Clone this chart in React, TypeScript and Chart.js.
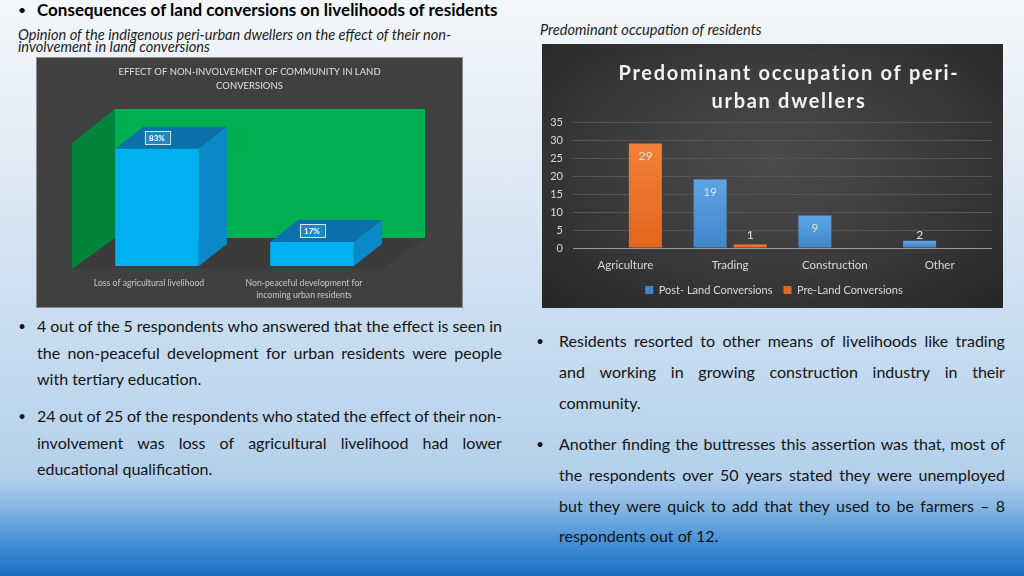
import React, { useEffect, useRef } from "react";
import { Chart, registerables } from "chart.js";

Chart.register(...registerables);

const FONT = "Lato, 'Open Sans', sans-serif";

// ---------- Left chart: effect of non-involvement (3D column look) ----------
const effectTitle = ["EFFECT OF NON-INVOLVEMENT OF COMMUNITY IN LAND", "CONVERSIONS"];
const effectCategories = [
  ["Loss of agricultural livelihood"],
  ["Non-peaceful development for", "incoming urban residents"],
];
const effectPercent = [83, 17];
const effectAxisMax = 87;

// ---------- Right chart: predominant occupation ----------
const occupationTitle = ["Predominant occupation of peri-", "urban dwellers"];
const occupationCategories = ["Agriculture", "Trading", "Construction", "Other"];
const seriesNames = ["Post- Land Conversions", "Pre-Land Conversions"];
const postConversion = [0, 19, 9, 2];
const preConversion = [29, 1, 0, 0];
const occupationAxisMax = 35;
const occupationAxisStep = 5;

// ---------- Slide text ----------
const headerText = "Consequences of land conversions on livelihoods of residents";
const leftCaption = [
  "Opinion of the indigenous peri-urban dwellers on the effect of their non-",
  "involvement in land conversions",
];
const rightCaption = "Predominant occupation of residents";
const leftBullets = [
  [
    "4 out of the 5 respondents who answered that the effect is seen in",
    "the non-peaceful development for urban residents were people",
    "with tertiary education.",
  ],
  [
    "24 out of 25 of the respondents who stated the effect of their non-",
    "involvement was loss of agricultural livelihood had lower",
    "educational qualification.",
  ],
];
const rightBullets = [
  [
    "Residents resorted to other means of livelihoods like trading",
    "and working in growing construction industry in their",
    "community.",
  ],
  [
    "Another finding the buttresses this assertion was that, most of",
    "the respondents over 50 years stated they were unemployed",
    "but they were quick to add that they used to be farmers \u2013 8",
    "respondents out of 12.",
  ],
];

type Pt = [number, number];
function poly(ctx: CanvasRenderingContext2D, pts: Pt[]) {
  ctx.beginPath();
  ctx.moveTo(pts[0][0], pts[0][1]);
  for (let i = 1; i < pts.length; i++) ctx.lineTo(pts[i][0], pts[i][1]);
  ctx.closePath();
  ctx.fill();
}

function EffectChart() {
  const ref = useRef<HTMLCanvasElement>(null);
  useEffect(() => {
    const canvas = ref.current!;
    const depth3d = {
      id: "depth3d",
      beforeDatasetsDraw(chart: any) {
        const { ctx, chartArea: ca } = chart;
        const fx = -7.5;
        const bx = 35.5;
        ctx.save();
        ctx.fillStyle = "rgba(0,0,0,0.07)";
        poly(ctx, [
          [ca.left + fx, ca.bottom + 3],
          [ca.left + bx, ca.bottom - 28],
          [ca.right + bx, ca.bottom - 28],
          [ca.right + fx, ca.bottom + 3],
        ]);
        ctx.fillStyle = "#00b050";
        poly(ctx, [
          [ca.left + bx, ca.top - 34],
          [ca.right + bx, ca.top - 34],
          [ca.right + bx, ca.bottom - 28],
          [ca.left + bx, ca.bottom - 28],
        ]);
        ctx.fillStyle = "#00843c";
        poly(ctx, [
          [ca.left + fx, ca.top],
          [ca.left + bx, ca.top - 34],
          [ca.left + bx, ca.bottom - 28],
          [ca.left + fx, ca.bottom + 3],
        ]);
        ctx.restore();
      },
      afterDatasetsDraw(chart: any) {
        const { ctx } = chart;
        const meta = chart.getDatasetMeta(0);
        const dx = 28;
        const dy = -22;
        ctx.save();
        meta.data.forEach((bar: any, i: number) => {
          const p = bar.getProps(["x", "y", "base", "width"], true);
          const l = p.x - p.width / 2;
          const r = p.x + p.width / 2;
          ctx.fillStyle = "#0a88c8";
          poly(ctx, [
            [r, p.y],
            [r + dx, p.y + dy],
            [r + dx, p.base + dy],
            [r, p.base],
          ]);
          ctx.fillStyle = "#0b71ab";
          poly(ctx, [
            [l, p.y],
            [l + dx, p.y + dy],
            [r + dx, p.y + dy],
            [r, p.y],
          ]);
          const txt = effectPercent[i] + "%";
          ctx.font = "bold 8px " + FONT;
          const tw = ctx.measureText(txt).width;
          const bw = tw + 9;
          const bh = 13;
          const cx = p.x;
          const cy = p.y - 11;
          ctx.fillStyle = "rgba(60,150,205,0.55)";
          ctx.fillRect(cx - bw / 2, cy - bh / 2, bw, bh);
          ctx.strokeStyle = "#cfe7f4";
          ctx.lineWidth = 1;
          ctx.strokeRect(Math.round(cx - bw / 2) + 0.5, Math.round(cy - bh / 2) + 0.5, Math.round(bw), bh);
          ctx.fillStyle = "#ffffff";
          ctx.textAlign = "center";
          ctx.textBaseline = "middle";
          ctx.fillText(txt, cx, cy + 0.5);
        });
        ctx.restore();
      },
      afterDraw(chart: any) {
        const { ctx, width } = chart;
        ctx.save();
        ctx.font = "9.5px " + FONT;
        ctx.fillStyle = "#e0e0e0";
        ctx.textAlign = "center";
        ctx.textBaseline = "middle";
        effectTitle.forEach((t, i) => ctx.fillText(t, width / 2, 15 + i * 14));
        ctx.restore();
      },
    };
    const chart = new Chart(canvas, {
      type: "bar",
      data: {
        labels: effectCategories as any,
        datasets: [
          {
            data: effectPercent,
            backgroundColor: "#00b0f0",
            borderWidth: 0,
            barPercentage: 0.54,
            categoryPercentage: 1,
          },
        ],
      },
      options: {
        animation: false,
        responsive: false,
        maintainAspectRatio: false,
        devicePixelRatio: 1,
        layout: { padding: { left: 43.5, right: 73.5, top: 86, bottom: 2 } },
        plugins: {
          legend: { display: false },
          title: { display: false },
          tooltip: { enabled: false },
        },
        scales: {
          x: {
            grid: { display: false, drawTicks: false },
            border: { display: false },
            ticks: {
              color: "#c8c8c8",
              font: { family: FONT, size: 8.7, lineHeight: 1.4 },
              padding: 11,
              labelOffset: -8,
              maxRotation: 0,
              autoSkip: false,
            },
            afterFit: (s: any) => {
              s.height = 40;
            },
          },
          y: { display: false, min: 0, max: effectAxisMax },
        },
      } as any,
      plugins: [depth3d],
    });
    return () => chart.destroy();
  }, []);
  return <canvas ref={ref} width={427} height={251} style={{ position: "absolute", left: 0, top: 0 }} />;
}

const barFill = (top: string, bottom: string) => (c: any) => {
  const chart = c.chart;
  const y = chart.scales && chart.scales.y;
  if (c.type !== "data" || !chart.chartArea || !y) return bottom;
  const yt = y.getPixelForValue(c.raw);
  const yb = y.getPixelForValue(0);
  if (!(yb - yt > 0.5)) return bottom;
  const g = chart.ctx.createLinearGradient(0, yt, 0, yb);
  g.addColorStop(0, top);
  g.addColorStop(1, bottom);
  return g;
};

function OccupationChart() {
  const ref = useRef<HTMLCanvasElement>(null);
  useEffect(() => {
    const canvas = ref.current!;
    const extras = {
      id: "extras",
      afterLayout(chart: any) {
        const lg = chart.legend;
        if (lg) {
          lg.left += 7;
          lg.right += 7;
        }
      },
      afterDatasetsDraw(chart: any) {
        const { ctx } = chart;
        ctx.save();
        ctx.font = "12px " + FONT;
        ctx.fillStyle = "#e2e2e2";
        ctx.textAlign = "center";
        ctx.textBaseline = "middle";
        chart.data.datasets.forEach((ds: any, di: number) => {
          const meta = chart.getDatasetMeta(di);
          meta.data.forEach((bar: any, i: number) => {
            const v = ds.data[i];
            if (!v) return;
            const p = bar.getProps(["x", "y", "base"], true);
            const yy = Math.min(p.y + 13, p.base - 12);
            ctx.fillText(String(v), p.x, yy);
          });
        });
        ctx.restore();
      },
      afterDraw(chart: any) {
        const { ctx } = chart;
        ctx.save();
        ctx.font = "bold 20px " + FONT;
        (ctx as any).letterSpacing = "1.7px";
        ctx.fillStyle = "#f2f2f2";
        ctx.textAlign = "center";
        ctx.textBaseline = "middle";
        occupationTitle.forEach((t, i) => ctx.fillText(t, 247, 30 + i * 28));
        ctx.restore();
      },
    };
    const chart = new Chart(canvas, {
      type: "bar",
      data: {
        labels: occupationCategories,
        datasets: [
          {
            label: seriesNames[0],
            data: postConversion,
            backgroundColor: barFill("#5ea4e4", "#3f86cb"),
            borderWidth: 0,
            barPercentage: 0.825,
            categoryPercentage: 0.764,
          },
          {
            label: seriesNames[1],
            data: preConversion,
            backgroundColor: barFill("#f3803a", "#e2661c"),
            borderWidth: 0,
            barPercentage: 0.825,
            categoryPercentage: 0.764,
          },
        ],
      },
      options: {
        animation: false,
        responsive: false,
        maintainAspectRatio: false,
        devicePixelRatio: 1,
        layout: { padding: { left: 0, right: 11, top: 78, bottom: 2.5 } },
        plugins: {
          title: { display: false },
          tooltip: { enabled: false },
          legend: {
            position: "bottom",
            labels: {
              color: "#d9d9d9",
              font: { family: FONT, size: 11 },
              boxWidth: 8,
              boxHeight: 8,
              padding: 11,
            },
          },
        },
        scales: {
          x: {
            grid: { display: false, drawTicks: false },
            border: { display: false },
            ticks: { color: "#d9d9d9", font: { family: FONT, size: 11.5 }, padding: 10 },
            afterFit: (s: any) => {
              s.height = 25.5;
            },
          },
          y: {
            min: 0,
            max: occupationAxisMax,
            ticks: {
              stepSize: occupationAxisStep,
              color: "#d9d9d9",
              font: { family: FONT, size: 11 },
              padding: 10,
            },
            grid: {
              drawTicks: false,
              lineWidth: 1,
              color: (c: any) => (c.tick && c.tick.value === 0 ? "#9a9a9a" : "#545454"),
            },
            border: { display: false },
            afterFit: (s: any) => {
              s.width = 31;
            },
          },
        },
      } as any,
      plugins: [extras],
    });
    return () => chart.destroy();
  }, []);
  return <canvas ref={ref} width={461} height={264} style={{ position: "absolute", left: 0, top: 0 }} />;
}

const BODY_SIZE = 16;

function TextLine({ text, x, y, w, justify }: { text: string; x: number; y: number; w: number; justify: boolean }) {
  const words = text.split(" ");
  return (
    <div
      style={{
        position: "absolute",
        left: x,
        top: y - 11,
        width: w,
        height: 22,
        lineHeight: "22px",
        display: "flex",
        justifyContent: justify ? "space-between" : "flex-start",
        whiteSpace: "nowrap",
        fontFamily: FONT,
        fontSize: BODY_SIZE,
        color: "#141414",
      }}
    >
      {justify
        ? words.map((wd, i) => <span key={i}>{i < words.length - 1 ? wd + " " : wd}</span>)
        : <span>{text}</span>}
    </div>
  );
}

function BulletBlock({
  groups,
  x,
  bx,
  w,
  starts,
  step,
}: {
  groups: string[][];
  x: number;
  bx: number;
  w: number;
  starts: number[];
  step: number;
}) {
  const out: React.ReactNode[] = [];
  groups.forEach((lines, gi) => {
    out.push(
      <div
        key={"b" + gi}
        style={{
          position: "absolute",
          left: bx - 5,
          top: starts[gi] - 11,
          width: 10,
          height: 22,
          lineHeight: "22px",
          textAlign: "center",
          fontFamily: FONT,
          fontSize: 13,
          color: "#141414",
        }}
      >
        {"\u2022"}
      </div>
    );
    lines.forEach((ln, li) => {
      out.push(
        <TextLine
          key={gi + "-" + li}
          text={ln}
          x={x}
          y={starts[gi] + li * step}
          w={w}
          justify={li < lines.length - 1}
        />
      );
    });
  });
  return <>{out}</>;
}

export default function App() {
  return (
    <div
      style={{
        position: "absolute",
        left: 0,
        top: 0,
        width: 1024,
        height: 576,
        overflow: "hidden",
        fontFamily: FONT,
        background:
          "linear-gradient(to bottom, #f4f7fa 0%, #e6eef7 20%, #cfe0f1 48%, #bdd6ed 72%, #b2cfeb 83%, #86b7e3 88%, #4690d7 94%, #1a6fc3 100%)",
      }}
    >
      <div style={{ position: "absolute", left: 15, top: 0, width: 14, height: 20, lineHeight: "20px", textAlign: "center", fontSize: 14, color: "#000" }}>
        {"\u2022"}
      </div>
      <div
        style={{
          position: "absolute",
          left: 37,
          top: 0,
          height: 20,
          lineHeight: "20px",
          fontSize: 17,
          fontWeight: 700,
          whiteSpace: "nowrap",
          color: "#000",
        }}
      >
        {headerText}
      </div>
      <div
        style={{
          position: "absolute",
          left: 18,
          top: 29,
          fontSize: 14.6,
          lineHeight: "11.5px",
          fontStyle: "italic",
          color: "#1e1e1e",
          whiteSpace: "nowrap",
        }}
      >
        {leftCaption.map((t, i) => (
          <div key={i}>{t}</div>
        ))}
      </div>
      <div
        style={{
          position: "absolute",
          left: 540,
          top: 22,
          fontSize: 14.6,
          lineHeight: "16px",
          fontStyle: "italic",
          color: "#1e1e1e",
          whiteSpace: "nowrap",
        }}
      >
        {rightCaption}
      </div>

      <div
        style={{
          position: "absolute",
          left: 36,
          top: 57,
          width: 427,
          height: 251,
          background: "#404040",
          boxShadow: "inset 0 0 0 1px #8a8a8a",
        }}
      >
        <EffectChart />
      </div>

      <div
        style={{
          position: "absolute",
          left: 542,
          top: 44,
          width: 461,
          height: 264,
          background: "radial-gradient(ellipse 70% 75% at 50% 45%, #4c4c4c 0%, #3a3a3a 55%, #262626 100%)",
        }}
      >
        <OccupationChart />
      </div>

      <BulletBlock groups={leftBullets} x={37} bx={22} w={465} starts={[326, 416]} step={26.5} />
      <BulletBlock groups={rightBullets} x={559} bx={540} w={446} starts={[341, 444]} step={30.8} />
    </div>
  );
}
